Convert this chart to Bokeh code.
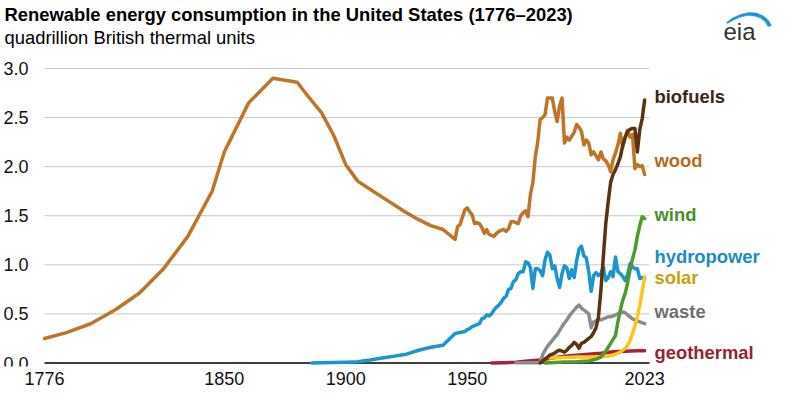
from bokeh.plotting import figure
from bokeh.models import Range1d, FixedTicker, PrintfTickFormatter, ColumnDataSource
from bokeh.core.properties import value
from bokeh.embed import file_html
from bokeh.resources import INLINE

# ---------------- data (quadrillion Btu) ----------------
x_tick_years = [1776, 1850, 1900, 1950, 2023]
y_ticks = [0.0, 0.5, 1.0, 1.5, 2.0, 2.5, 3.0]

annual_years = list(range(1949, 2024))

wood_early_years = [1776, 1785, 1795, 1805, 1815, 1825, 1835, 1845, 1850, 1860, 1870, 1880,
                    1885, 1890, 1895, 1900, 1905, 1910, 1915, 1920, 1925, 1930, 1935, 1940,
                    1945, 1946, 1947]
wood_early = [0.25, 0.31, 0.40, 0.54, 0.71, 0.96, 1.29, 1.75, 2.15, 2.65, 2.90, 2.86,
              2.70, 2.55, 2.32, 2.02, 1.85, 1.77, 1.69, 1.61, 1.53, 1.46, 1.40, 1.36,
              1.26, 1.39, 1.41]
wood_annual = [1.56,
               1.58, 1.54, 1.51, 1.42, 1.43, 1.42, 1.38, 1.32, 1.36, 1.31,
               1.30, 1.29, 1.32, 1.34, 1.35, 1.36, 1.34, 1.37, 1.44, 1.44,
               1.43, 1.42, 1.50, 1.53, 1.55, 1.49, 1.72, 1.84, 2.10, 2.25,
               2.48, 2.50, 2.53, 2.70, 2.70, 2.70, 2.56, 2.46, 2.62, 2.70,
               2.24, 2.30, 2.27, 2.31, 2.35, 2.43, 2.40, 2.36, 2.22, 2.27,
               2.24, 2.12, 2.15, 2.11, 2.07, 2.15, 2.08, 2.06, 2.02, 1.95,
               2.07, 2.14, 2.22, 2.34, 2.20, 2.30, 2.37, 2.30, 2.33, 1.98,
               2.02, 2.00, 2.01, 1.92]

hydro_early_years = [1886, 1890, 1895, 1900, 1905, 1910, 1915, 1920, 1925, 1930, 1935, 1940, 1945, 1947]
hydro_early = [0.0, 0.002, 0.004, 0.008, 0.013, 0.03, 0.05, 0.07, 0.09, 0.13, 0.16, 0.18, 0.30, 0.31]
hydro_annual = [0.32,
                0.34, 0.35, 0.37, 0.38, 0.39, 0.40, 0.45, 0.46, 0.49, 0.48,
                0.50, 0.54, 0.57, 0.59, 0.62, 0.66, 0.68, 0.75, 0.76, 0.83,
                0.85, 0.91, 0.93, 0.93, 1.03, 1.02, 0.97, 0.76, 0.96, 0.96,
                0.94, 0.89, 1.05, 1.13, 1.10, 0.96, 0.99, 0.86, 0.77, 0.91,
                0.99, 0.97, 0.86, 0.95, 0.87, 1.04, 1.16, 1.19, 1.09, 1.07,
                0.93, 0.73, 0.89, 0.92, 0.89, 0.91, 0.98, 0.84, 0.87, 0.93,
                0.88, 1.08, 0.93, 0.91, 0.88, 0.84, 0.90, 1.01, 0.98, 0.96,
                0.96, 0.86, 0.87, 0.86]

geo_years = [1960, 1965, 1970, 1975, 1980, 1985, 1990, 1995, 2000, 2005, 2010, 2015, 2020, 2023]
geo_values = [0.0, 0.003, 0.008, 0.02, 0.03, 0.05, 0.07, 0.08, 0.09, 0.10, 0.115, 0.12, 0.125, 0.125]

waste_years = list(range(1970, 2024))
waste_values = [0.002, 0.002, 0.002, 0.002, 0.002, 0.002, 0.002, 0.002, 0.002, 0.002,
                0.002, 0.08, 0.13, 0.17, 0.20, 0.23, 0.26, 0.29, 0.33, 0.37,
                0.41, 0.44, 0.48, 0.51, 0.54, 0.57, 0.59, 0.56, 0.54, 0.52,
                0.50, 0.36, 0.42, 0.43, 0.44, 0.44, 0.45, 0.46, 0.47, 0.47,
                0.48, 0.49, 0.50, 0.51, 0.52, 0.51, 0.49, 0.47, 0.45, 0.44,
                0.43, 0.42, 0.41, 0.40]

solar_years = [1984, 1990, 1995, 2000, 2005, 2008, 2010, 2011, 2012, 2013, 2014, 2015,
               2016, 2017, 2018, 2019, 2020, 2021, 2022, 2023]
solar_values = [0.05, 0.055, 0.06, 0.06, 0.065, 0.07, 0.08, 0.09, 0.10, 0.11, 0.13, 0.15,
                0.18, 0.23, 0.30, 0.38, 0.47, 0.59, 0.73, 0.88]

wind_years = [1982, 1990, 1995, 2000, 2003, 2005, 2006, 2007, 2008, 2009, 2010, 2011,
              2012, 2013, 2014, 2015, 2016, 2017, 2018, 2019, 2020, 2021, 2022, 2023]
wind_values = [0.0, 0.01, 0.012, 0.02, 0.04, 0.06, 0.09, 0.12, 0.16, 0.20, 0.24, 0.28,
               0.42, 0.54, 0.64, 0.71, 0.82, 0.95, 1.06, 1.15, 1.29, 1.40, 1.49, 1.47]

biofuel_years = list(range(1980, 2024))
biofuel_values = [0.00, 0.02, 0.04, 0.06, 0.08, 0.09, 0.10, 0.12, 0.13, 0.12,
                  0.11, 0.13, 0.16, 0.18, 0.21, 0.19, 0.15, 0.20, 0.21, 0.23,
                  0.25, 0.27, 0.31, 0.36, 0.47, 0.74, 1.08, 1.42, 1.64, 1.84,
                  1.92, 1.97, 2.03, 2.10, 2.22, 2.30, 2.36, 2.38, 2.39, 2.39,
                  2.15, 2.38, 2.49, 2.68]

series_names = ["biofuels", "wood", "wind", "hydropower", "solar", "waste", "geothermal"]
label_levels = [2.71, 2.065, 1.51, 1.08, 0.87, 0.525, 0.105]   # label centres

title_text = "Renewable energy consumption in the United States (1776\u20132023)"
subtitle_text = "quadrillion British thermal units"
logo_text = "eia"

# ---------------- styles / layout ----------------
FONT = "Liberation Sans"
line_colors = {"wood": "#BF7429", "hydropower": "#1C94D2", "geothermal": "#A3233A",
               "waste": "#8C8C8C", "solar": "#FFC51A", "wind": "#4F9A2C", "biofuels": "#5A3312"}
label_colors = {"wood": "#B8691F", "hydropower": "#1B8ACB", "geothermal": "#9A1F35",
                "waste": "#707070", "solar": "#C9A10F", "wind": "#4A8E29", "biofuels": "#3E2614"}

W, H = 784, 390
MB = 24
X0, GRID_END = 1776, 2025
PX_YR = 605.0 / (GRID_END - X0)      # pixels per year
PX_V = 294.5 / 3.0                    # pixels per quad
LEFT_PX = 44                          # pixels from canvas edge to 1776
TOP_PX = 68                           # pixels from canvas top to the 3.0 gridline
XL = X0 - LEFT_PX / PX_YR
XR = XL + W / PX_YR
YT = 3.0 + TOP_PX / PX_V
YB = YT - (H - MB) / PX_V

def fx(px):   # canvas pixel -> data x
    return XL + px / PX_YR

def fy(py):   # canvas pixel (from top) -> data y
    return YT - py / PX_V

p = figure(width=W, height=H, output_backend="svg", toolbar_location=None,
           x_range=Range1d(XL, XR), y_range=Range1d(YB, YT),
           min_border_left=0, min_border_right=0, min_border_top=0, min_border_bottom=MB)
p.outline_line_color = None
p.background_fill_color = "white"
p.border_fill_color = "white"
p.grid.visible = False

for ax in (p.xaxis[0], p.yaxis[0]):
    ax.axis_line_color = None
    ax.major_tick_line_color = None
    ax.minor_tick_line_color = None
    ax.major_tick_out = 0
    ax.major_tick_in = 0
    ax.minor_tick_out = 0
    ax.minor_tick_in = 0
    ax.major_label_text_font = FONT
    ax.major_label_text_font_size = "18px"
    ax.major_label_text_color = "#111111"

p.xaxis.ticker = FixedTicker(ticks=x_tick_years)
p.xaxis.formatter = PrintfTickFormatter(format="%d")
p.xaxis.major_label_standoff = 5
p.yaxis.ticker = FixedTicker(ticks=y_ticks)
p.yaxis.formatter = PrintfTickFormatter(format="%.1f")
p.yaxis.major_label_standoff = 16
p.yaxis.fixed_location = X0

grid_levels = y_ticks[1:]
p.segment(x0=[X0] * len(grid_levels), x1=[GRID_END] * len(grid_levels),
          y0=grid_levels, y1=grid_levels, line_color="#C8C8C8", line_width=1)
p.segment(x0=[X0], x1=[GRID_END], y0=[y_ticks[0]], y1=[y_ticks[0]],
          line_color="black", line_width=1.5)

def draw(xs, ys, name):
    p.line(xs, ys, line_color=line_colors[name], line_width=3.5,
           line_join="round", line_cap="round")

draw(wood_early_years + annual_years, wood_early + wood_annual, "wood")
draw(hydro_early_years + annual_years, hydro_early + hydro_annual, "hydropower")
draw(geo_years, geo_values, "geothermal")
draw(waste_years, waste_values, "waste")
draw(solar_years, solar_values, "solar")
draw(wind_years, wind_values, "wind")
draw(biofuel_years, biofuel_values, "biofuels")

lab_src = ColumnDataSource(dict(x=[GRID_END] * len(series_names), y=label_levels,
                                text=series_names,
                                color=[label_colors[n] for n in series_names]))
p.text(x="x", y="y", text="text", source=lab_src, x_offset=5, text_color="color",
       text_font=value(FONT), text_font_size="18.4px", text_font_style="bold",
       text_baseline="middle")

# title block
p.text(x=[fx(4)], y=[fy(14.3)], text=[title_text], text_font=value(FONT),
       text_font_size="18.4px", text_font_style="bold", text_color="black",
       text_baseline="middle")
p.text(x=[fx(4)], y=[fy(36.9)], text=[subtitle_text], text_font=value(FONT),
       text_font_size="18.4px", text_color="black", text_baseline="middle")

# eia logo
p.text(x=[fx(723)], y=[fy(31.2)], text=[logo_text], text_font=value(FONT),
       text_font_size="24px", text_color="#333333", text_baseline="middle")
arc_px = [726, 732, 740, 748, 756, 763, 768, 771, 767.5, 764.5, 760, 754, 747, 740, 733, 727]
arc_py = [22, 17.5, 14, 12, 12.5, 15.5, 20, 25, 26, 21, 17.5, 15.5, 15, 16.5, 19.5, 23]
p.patch([fx(a) for a in arc_px], [fy(b) for b in arc_py],
        fill_color="#1E96D4", line_color="#1E96D4", line_width=0.5)

open("out.html", "w").write(file_html(p, INLINE))
